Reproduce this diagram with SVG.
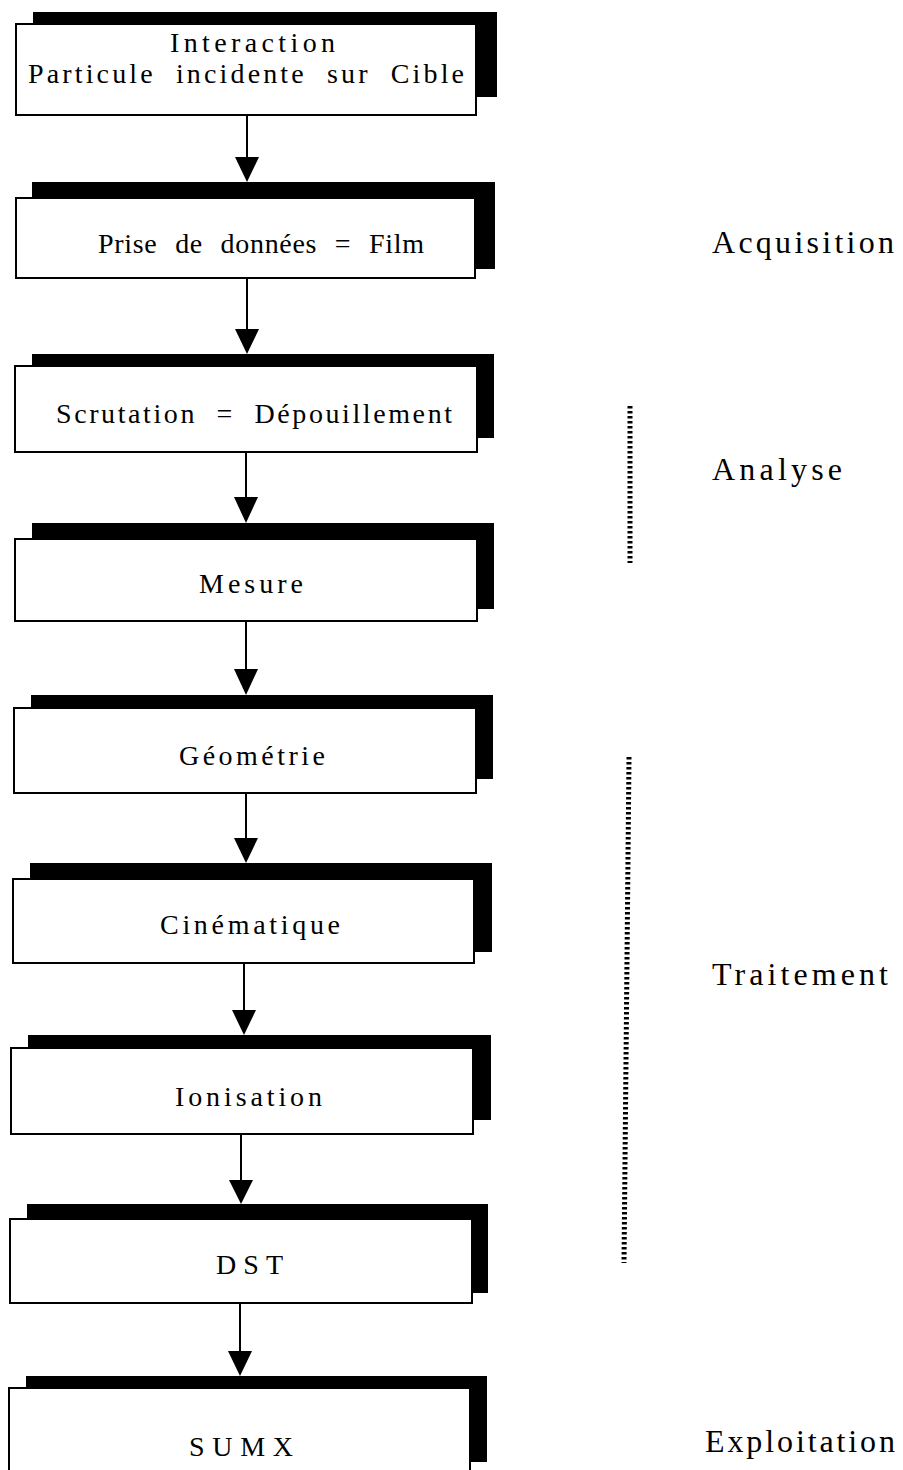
<svg xmlns="http://www.w3.org/2000/svg" width="903" height="1470" viewBox="0 0 903 1470">
<defs>
<style>
.sh{fill:#000}
.bx{fill:#fff;stroke:#000;stroke-width:2}
.t{font-family:"Liberation Serif","Times New Roman",serif;font-size:28px;fill:#000;word-spacing:10px}
.lb{font-family:"Liberation Serif","Times New Roman",serif;font-size:32px;fill:#000}
.ln{stroke:#000;stroke-width:2;fill:none}
.ah{fill:#000}
.dot{stroke:#000;stroke-width:5;stroke-dasharray:2.5 2.5;fill:none}
</style>
</defs>
<rect width="903" height="1470" fill="#fff"/>
<g id="connectors">
<line class="ln" x1="247" y1="115" x2="247" y2="160"/><polygon class="ah" points="235,157 259,157 247,182"/>
<line class="ln" x1="247" y1="278" x2="247" y2="332"/><polygon class="ah" points="235,329 259,329 247,354"/>
<line class="ln" x1="246" y1="452" x2="246" y2="500"/><polygon class="ah" points="234,497 258,497 246,523"/>
<line class="ln" x1="246" y1="621" x2="246" y2="672"/><polygon class="ah" points="234,669 258,669 246,695"/>
<line class="ln" x1="246" y1="793" x2="246" y2="841"/><polygon class="ah" points="234,838 258,838 246,863"/>
<line class="ln" x1="244" y1="963" x2="244" y2="1013"/><polygon class="ah" points="232,1010 256,1010 244,1035"/>
<line class="ln" x1="241" y1="1134" x2="241" y2="1183"/><polygon class="ah" points="229,1180 253,1180 241,1204"/>
<line class="ln" x1="240" y1="1303" x2="240" y2="1354"/><polygon class="ah" points="228,1351 252,1351 240,1376"/>
</g>
<g id="n1"><rect class="sh" x="33" y="12" width="464" height="85"/><rect class="bx" x="16" y="24" width="460" height="91"/>
<text class="t" x="170" y="52" textLength="165" lengthAdjust="spacing">Interaction</text>
<text class="t" x="28" y="83" textLength="436" lengthAdjust="spacing">Particule incidente sur Cible</text></g>
<g id="n2"><rect class="sh" x="32" y="182" width="463" height="87"/><rect class="bx" x="16" y="198" width="459" height="80"/>
<text class="t" x="98" y="253" textLength="326" lengthAdjust="spacing">Prise de données = Film</text></g>
<g id="n3"><rect class="sh" x="32" y="354" width="462" height="84"/><rect class="bx" x="15" y="366" width="462" height="86"/>
<text class="t" x="56" y="423" textLength="396" lengthAdjust="spacing">Scrutation = Dépouillement</text></g>
<g id="n4"><rect class="sh" x="32" y="523" width="462" height="86"/><rect class="bx" x="15" y="539" width="462" height="82"/>
<text class="t" x="199" y="593" textLength="104" lengthAdjust="spacing">Mesure</text></g>
<g id="n5"><rect class="sh" x="31" y="695" width="462" height="84"/><rect class="bx" x="14" y="708" width="462" height="85"/>
<text class="t" x="179" y="765" textLength="146" lengthAdjust="spacing">Géométrie</text></g>
<g id="n6"><rect class="sh" x="30" y="863" width="462" height="89"/><rect class="bx" x="13" y="879" width="461" height="84"/>
<text class="t" x="160" y="934" textLength="180" lengthAdjust="spacing">Cinématique</text></g>
<g id="n7"><rect class="sh" x="28" y="1035" width="463" height="85"/><rect class="bx" x="11" y="1048" width="462" height="86"/>
<text class="t" x="175" y="1106" textLength="147" lengthAdjust="spacing">Ionisation</text></g>
<g id="n8"><rect class="sh" x="27" y="1204" width="461" height="89"/><rect class="bx" x="10" y="1219" width="462" height="84"/>
<text class="t" x="216" y="1274" textLength="67" lengthAdjust="spacing">DST</text></g>
<g id="n9"><rect class="sh" x="26" y="1376" width="461" height="86"/><rect class="bx" x="9" y="1388" width="461" height="90"/>
<text class="t" x="189" y="1456" textLength="104" lengthAdjust="spacing">SUMX</text></g>
<g id="phases">
<text class="lb" x="712" y="253" textLength="182" lengthAdjust="spacing">Acquisition</text>
<text class="lb" x="712" y="480" textLength="130" lengthAdjust="spacing">Analyse</text>
<text class="lb" x="712" y="985" textLength="176" lengthAdjust="spacing">Traitement</text>
<text class="lb" x="705" y="1452" textLength="190" lengthAdjust="spacing">Exploitation</text>
<line class="dot" x1="630" y1="406" x2="630" y2="563"/>
<line class="dot" x1="629" y1="757" x2="624" y2="1263"/>
</g>
</svg>
